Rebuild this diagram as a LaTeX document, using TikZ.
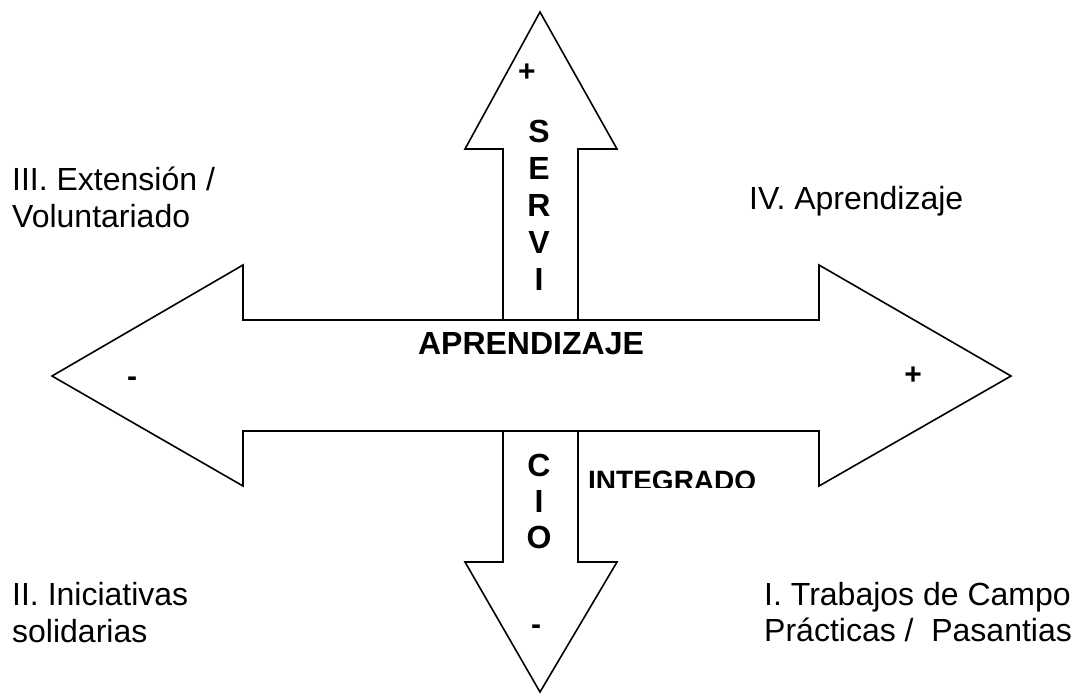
\documentclass[tikz,border=0pt]{standalone}
\usepackage{fontspec}
\setmainfont{Liberation Sans}
\begin{document}
\begin{tikzpicture}[x=1pt,y=-1pt,
  arrowshape/.style={draw=black,fill=white,line width=1.6pt,line join=miter},
  lbl/.style={inner sep=0pt,font=\fontsize{32}{37}\selectfont},
  blbl/.style={inner sep=0pt,font=\fontsize{32}{37}\selectfont\bfseries},
  sign/.style={inner sep=0pt,font=\fontsize{30}{36}\selectfont\bfseries}]
\useasboundingbox (0,0) rectangle (1075,694);
% vertical arrow
\draw[arrowshape] (540,12) -- (617,149) -- (578,149) -- (578,562) -- (617,562) -- (540,692)
  -- (465,562) -- (503,562) -- (503,149) -- (465,149) -- cycle;
% horizontal arrow
\draw[arrowshape] (52,376) -- (243,265) -- (243,320) -- (819,320) -- (819,265) -- (1011,376)
  -- (819,486) -- (819,431) -- (243,431) -- (243,486) -- cycle;
% signs
\node[sign] (ptop) at (527,73) {+};
\node[sign] (mleft) at (132,382) {-};
\node[sign] (pright) at (913,376) {+};
\node[sign] (mbot) at (536,630) {-};
% vertical letters
\node[blbl,anchor=base] (s) at (539,142) {S};
\node[blbl,anchor=base] (e) at (539,179) {E};
\node[blbl,anchor=base] (r) at (539,216) {R};
\node[blbl,anchor=base] (v) at (539,253) {V};
\node[blbl,anchor=base] (i1) at (539,290) {I};
\node[blbl,anchor=base] (c) at (539,476) {C};
\node[blbl,anchor=base] (i2) at (539,512) {I};
\node[blbl,anchor=base] (o) at (539,548) {O};
% center text
\node[blbl] (apr) at (531,344) {APRENDIZAJE};
\begin{scope}
\clip (580,440) rectangle (800,487);
\node[inner sep=0pt,anchor=base west,font=\fontsize{28}{32}\selectfont\bfseries] (integ) at (588,490) {INTEGRADO};
\end{scope}
% quadrant labels
\node[lbl,anchor=base west] (q3a) at (12,190) {III. Extensión /};
\node[lbl,anchor=base west] (q3b) at (12,227) {Voluntariado};
\node[lbl,anchor=base west] (q4) at (749,209) {IV. Aprendizaje};
\node[lbl,anchor=base west] (q2a) at (12,605) {II. Iniciativas};
\node[lbl,anchor=base west] (q2b) at (12,642) {solidarias};
\node[lbl,anchor=base west] (q1a) at (764,605) {I. Trabajos de Campo};
\node[lbl,anchor=base west] (q1b) at (764,641) {Prácticas /\ \ Pasantias};
\end{tikzpicture}
\end{document}
